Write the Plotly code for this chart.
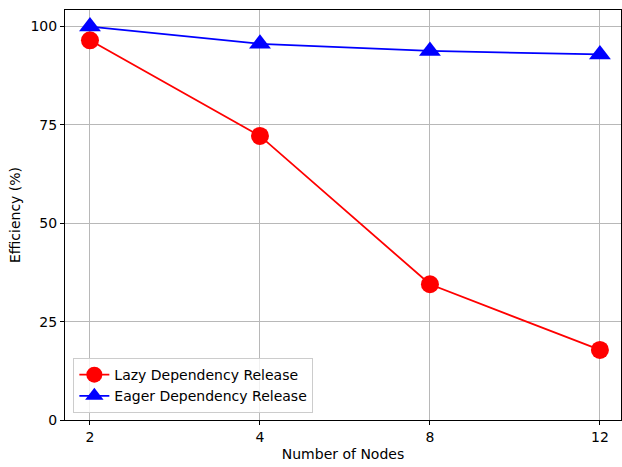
import plotly.graph_objects as go

nodes = ["2", "4", "8", "12"]
lazy_eff = [96.5, 72.2, 34.5, 17.8]
eager_eff = [100.0, 95.6, 93.8, 92.9]

font = "DejaVu Sans"

fig = go.Figure()
fig.add_trace(go.Scatter(
    x=[0, 1, 2, 3], y=lazy_eff, mode="lines+markers",
    name="Lazy Dependency Release",
    line=dict(color="red", width=1.8),
    marker=dict(symbol="circle", size=18, color="red"),
))
fig.add_trace(go.Scatter(
    x=[0, 1, 2, 3], y=eager_eff, mode="lines+markers",
    name="Eager Dependency Release",
    line=dict(color="blue", width=1.8),
    marker=dict(symbol="triangle-up", size=19, color="blue"),
))

axis_common = dict(
    showline=True, linecolor="black", linewidth=1, mirror=True,
    showgrid=True, gridcolor="#b8b8b8", gridwidth=1,
    ticks="outside", ticklen=4, tickcolor="black",
    tickfont=dict(family=font, size=14, color="black"),
    zeroline=False,
)

fig.update_layout(
    width=622, height=467,
    margin=dict(l=65, r=1, t=10, b=47),
    paper_bgcolor="white", plot_bgcolor="white",
    font=dict(family=font, size=14, color="black"),
    xaxis=dict(
        range=[-0.147, 3.124],
        tickmode="array", tickvals=[0, 1, 2, 3], ticktext=nodes,
        title=dict(text="Number of Nodes", font=dict(family=font, size=14), standoff=5),
        **axis_common,
    ),
    yaxis=dict(
        range=[0, 104.2],
        tickmode="array", tickvals=[0, 25, 50, 75, 100],
        title=dict(text="Efficiency (%)", font=dict(family=font, size=14), standoff=6),
        **axis_common,
    ),
    legend=dict(
        x=0.015, y=0.017, xanchor="left", yanchor="bottom",
        bgcolor="rgba(255,255,255,0.8)", bordercolor="#cccccc", borderwidth=1,
        font=dict(family=font, size=14),
        itemwidth=30,
    ),
)

fig.write_html("out.html")
